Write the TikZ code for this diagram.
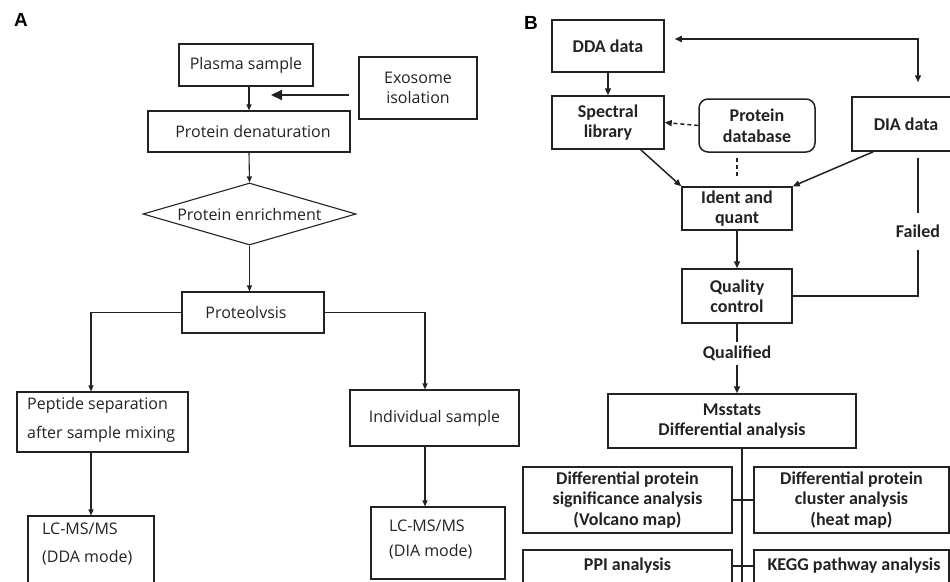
\documentclass[tikz,border=0pt]{standalone}
\usepackage{fontspec}
\setmainfont{Open Sans}
\newfontfamily\bfont{Carlito}
\newfontfamily\lfont{Liberation Sans}
\usetikzlibrary{arrows.meta,shapes.geometric,calc}
\definecolor{ink}{HTML}{222222}
\tikzset{
  afont/.style={font=\fontsize{16}{20}\selectfont},
  abox/.style={draw=ink, line width=1.1pt, inner sep=0pt, align=center, text=ink, afont},
  atext/.style={inner sep=0pt, text=ink, afont},
  bfontst/.style={font=\bfont\bfseries\fontsize{18}{20.5}\selectfont},
  bbox/.style={draw=ink, line width=1.5pt, inner sep=0pt, align=center, text=ink, bfontst},
  btext/.style={inner sep=0pt, text=ink, bfontst},
  plabel/.style={inner sep=0pt, font=\lfont\bfseries\fontsize{19}{19}\selectfont},
  arr/.style={draw=ink, line width=1.1pt, -{Triangle[length=6pt,width=5pt]}},
  bigarr/.style={draw=ink, line width=2.2pt, -{Triangle[length=11pt,width=10pt]}},
  bline/.style={draw=ink, line width=1.5pt},
  barr/.style={draw=ink, line width=1.5pt, -{Triangle[length=7pt,width=6pt]}},
  bdarr/.style={draw=ink, line width=1.5pt, {Triangle[length=7pt,width=6pt]}-{Triangle[length=7pt,width=6pt]}},
  dashpat/.style={dash pattern=on 4pt off 3pt}
}
\begin{document}
\begin{tikzpicture}[x=1pt,y=-1pt]
\useasboundingbox (0,0) rectangle (950,581);
\clip (0,0) rectangle (950,581);

% panel labels
\node[plabel] (lA) at (21,20) {A};
\node[plabel] (lB) at (531,23) {B};

% ---------- Panel A ----------
\node[abox, minimum width=134pt, minimum height=42pt] (plasma) at (246,65) {Plasma sample};
\node[abox, minimum width=118pt, minimum height=62pt] (exo) at (418,88) {Exosome\\isolation};
\node[abox, minimum width=202pt, minimum height=41pt] (denat) at (249,131.5) {\hspace{8pt}Protein denaturation};
\node[draw=ink, line width=1.1pt, diamond, inner sep=0pt, minimum width=213pt, minimum height=62pt] (enrich) at (249.5,214) {};
\node[atext] (enrichtxt) at (enrich.center) {Protein enrichment};
\node[abox, minimum width=142pt, minimum height=41pt] (proteo) at (253,312.5) {Proteolvsis\hspace{14pt}};
\node[abox, minimum width=171pt, minimum height=60pt] (pept) at (102.5,422) {};
\node[atext, anchor=west, align=left, font=\fontsize{16}{29}\selectfont] (pepttxt) at (27,419.5) {Peptide separation\\after sample mixing};
\node[abox, minimum width=169pt, minimum height=56pt] (indiv) at (434.5,418) {Individual sample};
\node[abox, minimum width=126pt, minimum height=84pt] (ddams) at (91,558) {};
\node[atext, anchor=west, align=left, font=\fontsize{16}{28}\selectfont] (ddatxt) at (42,544) {LC-MS/MS\\(DDA mode)};
\node[abox, minimum width=134pt, minimum height=72pt] (diams) at (438,543) {};
\node[atext, anchor=west, align=left, font=\fontsize{16}{25}\selectfont] (diatxt) at (389,539) {LC-MS/MS\\(DIA mode)};

\coordinate (rx) at (425,0);
\coordinate (exotip) at (271,95);

\draw[arr] (plasma.south -| denat.north) -- (denat.north);
\draw[bigarr] ($(exo.west)+(-9,7)$) -- (exotip);
\draw[arr] (denat.south) -- (enrich.north);
\draw[arr] (enrich.south) -- (enrich.south |- proteo.north);
\draw[arr] (proteo.west) -| (pept.north -| ddams.north);
\draw[arr] (proteo.east) -| (indiv.north -| rx);
\draw[arr] (pept.south -| ddams.north) -- (ddams.north);
\draw[arr] (indiv.south -| rx) -- (diams.north -| rx);

% ---------- Panel B ----------
\node[bbox, minimum width=112pt, minimum height=52pt] (ddad) at (608,46) {DDA data};
\node[bbox, minimum width=112pt, minimum height=53pt] (spec) at (608,122.5) {Spectral\\library};
\node[bbox, rounded corners=9pt, minimum width=116pt, minimum height=53pt] (protdb) at (757,125.5) {Protein\\database};
\node[bbox, minimum width=108pt, minimum height=54pt] (diad) at (906,124) {DIA data};
\node[bbox, minimum width=110pt, minimum height=43pt] (ident) at (737,208.5) {Ident and\\quant};
\node[bbox, minimum width=110pt, minimum height=54pt] (qual) at (737,296) {Quality\\control};
\node[btext, minimum height=37pt] (failed) at (918,231.5) {Failed};
\node[btext, minimum height=23pt] (qualified) at (737,353.5) {Qualified};
\node[bbox, minimum width=248pt, minimum height=54pt] (msst) at (732,421) {Msstats\\Differential analysis};
\node[bbox, minimum width=209pt, minimum height=66pt] (dsig) at (627.5,500) {Differential protein\\significance analysis\\(Volcano map)};
\node[bbox, minimum width=195pt, minimum height=66pt] (dclu) at (851.5,500) {Differential protein\\cluster analysis\\(heat map)};
\node[bbox, minimum width=209pt, minimum height=50pt] (ppi) at (627.5,575) {};
\node[btext] (ppitxt) at (627.5,566) {PPI analysis};
\node[bbox, minimum width=195pt, minimum height=50pt] (kegg) at (851.5,575) {};
\node[btext] (keggtxt) at (854,566) {KEGG pathway analysis};

\coordinate (vx) at (742,600);

\draw[barr] (ddad.south) -- (spec.north);
\draw[bdarr] ($(ddad.east)+(10,-7)$) -| ($(diad.north)+(12,-14)$);
\draw[barr, dashpat] (protdb.west) -- (spec.east);
\draw[bline, dashpat] ($(protdb.south -| ident.north)+(0,5)$) -- ($(ident.north)+(0,-10)$);
\draw[barr] ($(spec.south east)+(-24,0)$) -- (ident.north west);
\draw[barr] ($(diad.south west)+(22,0)$) -- (ident.north east);
\draw[barr] (ident.south) -- (qual.north);
\draw[bline] ($(diad.south)+(12,6)$) -- (failed.north);
\draw[bline] (failed.south) |- (qual.east);
\draw[bline] (qual.south) -- (qualified.north);
\draw[barr] (qualified.south) -- (qualified.south |- msst.north);
\draw[bline] (msst.south -| vx) -- (vx);
\draw[bline] (dsig.east) -- (dclu.west);
\draw[bline] (ppi.east |- ppitxt) -- (kegg.west |- ppitxt);
\end{tikzpicture}
\end{document}
